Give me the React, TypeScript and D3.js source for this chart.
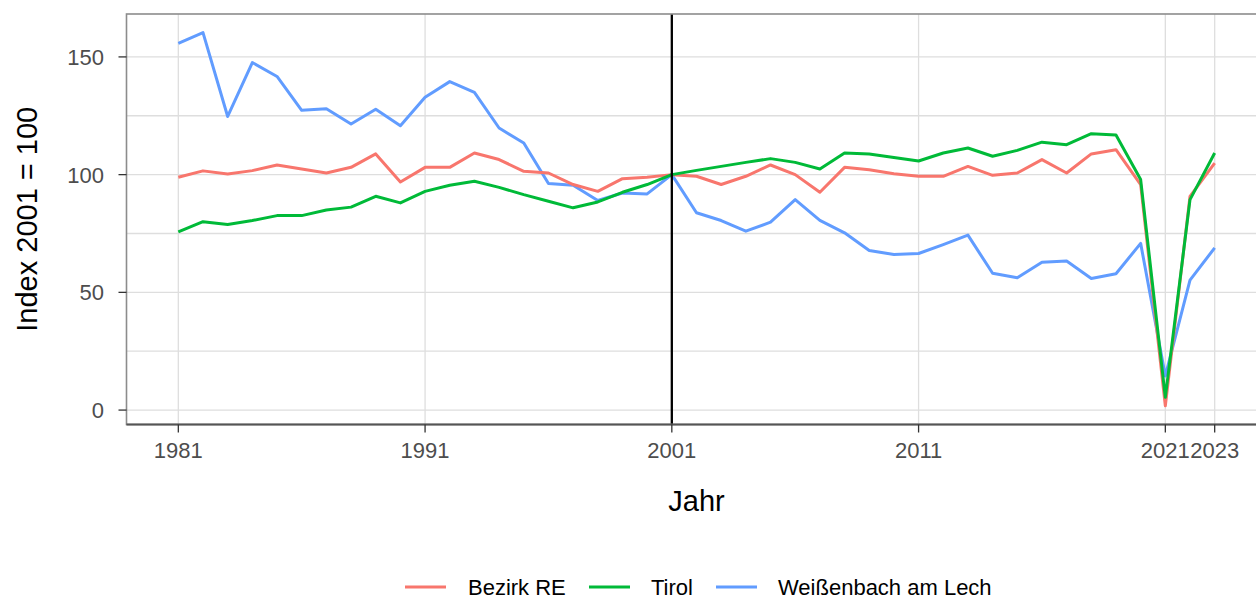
import React from 'react'
import * as d3 from 'd3'

// years 1981..2023
const years = d3.range(1981, 2024)

const bezirkRE = [
  98.9, 101.6, 100.3, 101.7, 104.1, 102.4, 100.7, 103.1, 108.8, 96.9,
  103.1, 103.1, 109.2, 106.4, 101.4, 100.7, 95.8, 92.9, 98.3, 98.9,
  100, 99.3, 95.8, 99.3, 104.1, 100, 92.5, 103.1, 102.1, 100.4,
  99.3, 99.3, 103.5, 99.7, 100.7, 106.4, 100.7, 108.8, 110.6, 95.8,
  1.8, 90.8, 104.9,
]

const tirol = [
  75.7, 80, 78.8, 80.5, 82.6, 82.6, 85, 86.2, 90.8, 88,
  92.9, 95.5, 97.2, 94.6, 91.5, 88.7, 85.9, 88.4, 92.5, 95.8,
  100, 101.8, 103.5, 105.2, 106.8, 105.2, 102.4, 109.2, 108.8, 107.3,
  105.8, 109.2, 111.3, 107.8, 110.3, 113.8, 112.7, 117.4, 116.8, 97.9,
  5.4, 89.4, 109.2,
]

const weissenbach = [
  155.8, 160.3, 124.7, 147.6, 141.7, 127.3, 128, 121.5, 127.8, 120.8,
  132.9, 139.5, 134.9, 119.8, 113.4, 96.2, 95.5, 89, 92.2, 91.8,
  100, 83.8, 80.5, 76, 79.8, 89.4, 80.6, 75.3, 67.8, 66.1,
  66.5, 70.3, 74.3, 58.1, 56.2, 62.8, 63.3, 55.9, 57.9, 70.8,
  14.5, 55.2, 68.9,
]

const xTicks = [1981, 1991, 2001, 2011, 2021, 2023]
const yTicks = [0, 50, 100, 150]
const yMinor = [25, 75, 125]
const refYear = 2001

const series = [
  { name: 'Bezirk RE', values: bezirkRE, color: '#F8766D' },
  { name: 'Tirol', values: tirol, color: '#00BA38' },
  { name: 'Weißenbach am Lech', values: weissenbach, color: '#619CFF' },
]
// drawing order (last on top)
const drawOrder = [2, 0, 1]

const W = 1256
const H = 597
const panel = { left: 126.5, right: 1266.5, top: 14, bottom: 424.5 }
const font = '"Liberation Sans", Arial, sans-serif'

function expand(lo: number, hi: number, f = 0.05): [number, number] {
  const d = (hi - lo) * f
  return [lo - d, hi + d]
}

export default function App() {
  const allVals = series.flatMap(s => s.values)
  const x = d3.scaleLinear()
    .domain(expand(d3.min(years)!, d3.max(years)!))
    .range([panel.left, panel.right])
  const y = d3.scaleLinear()
    .domain(expand(d3.min(allVals)!, d3.max(allVals)!))
    .range([panel.bottom, panel.top])

  const line = d3.line<[number, number]>()
    .x(d => x(d[0]))
    .y(d => y(d[1]))

  const legendItems = [
    { key: 405, text: 468 },
    { key: 589, text: 651 },
    { key: 716, text: 778 },
  ]

  return (
    <svg width={W} height={H} style={{ position: 'absolute', left: 0, top: 0, background: '#fff' }}
      fontFamily={font}>
      <defs>
        <clipPath id="panel">
          <rect x={panel.left} y={panel.top} width={panel.right - panel.left} height={panel.bottom - panel.top} />
        </clipPath>
      </defs>

      {/* grid */}
      <g stroke="#dedede" strokeWidth={1.3}>
        {yMinor.map(v => (
          <line key={'m' + v} x1={panel.left} x2={panel.right} y1={y(v)} y2={y(v)} />
        ))}
        {yTicks.map(v => (
          <line key={'y' + v} x1={panel.left} x2={panel.right} y1={y(v)} y2={y(v)} />
        ))}
        {xTicks.map(v => (
          <line key={'x' + v} x1={x(v)} x2={x(v)} y1={panel.top} y2={panel.bottom} />
        ))}
      </g>

      {/* series */}
      <g clipPath="url(#panel)" fill="none" strokeWidth={3} strokeLinejoin="round">
        {drawOrder.map(i => {
          const s = series[i]
          const pts = years.map((yr, j) => [yr, s.values[j]] as [number, number])
          return <path key={s.name} d={line(pts)!} stroke={s.color} />
        })}
      </g>

      {/* reference year */}
      <line x1={x(refYear)} x2={x(refYear)} y1={panel.top} y2={panel.bottom} stroke="#000" strokeWidth={2.3} />

      {/* panel border */}
      <rect x={panel.left} y={panel.top} width={panel.right - panel.left} height={panel.bottom - panel.top}
        fill="none" stroke="#8c8c8c" strokeWidth={1.6} />
      <line x1={panel.left} x2={panel.right} y1={panel.bottom} y2={panel.bottom} stroke="#555" strokeWidth={2} />

      {/* y axis */}
      <g>
        {yTicks.map(v => (
          <g key={v}>
            <line x1={panel.left - 8} x2={panel.left} y1={y(v)} y2={y(v)} stroke="#333" strokeWidth={1.3} />
            <text x={104} y={y(v)} dy="0.36em" textAnchor="end" fontSize={22} fill="#4d4d4d">{v}</text>
          </g>
        ))}
      </g>

      {/* x axis */}
      <g>
        {xTicks.map(v => (
          <g key={v}>
            <line x1={x(v)} x2={x(v)} y1={panel.bottom} y2={panel.bottom + 8} stroke="#333" strokeWidth={1.3} />
            <text x={x(v)} y={458} textAnchor="middle" fontSize={22} fill="#4d4d4d">{v}</text>
          </g>
        ))}
      </g>

      {/* axis titles */}
      <text x={(panel.left + panel.right) / 2} y={511} textAnchor="middle" fontSize={29} fill="#000">Jahr</text>
      <text transform={`translate(36.5,${(panel.top + panel.bottom) / 2}) rotate(-90)`} textAnchor="middle"
        fontSize={29} fill="#000">Index 2001 = 100</text>

      {/* legend */}
      <g>
        {series.map((s, i) => (
          <g key={s.name}>
            <line x1={legendItems[i].key} x2={legendItems[i].key + 41} y1={587} y2={587}
              stroke={s.color} strokeWidth={3} />
            <text x={legendItems[i].text} y={587} dy="0.36em" fontSize={22} fill="#000">{s.name}</text>
          </g>
        ))}
      </g>
    </svg>
  )
}
